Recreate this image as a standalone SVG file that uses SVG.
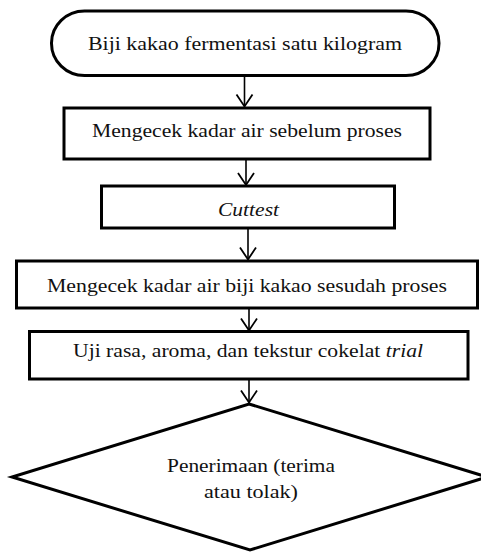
<svg xmlns="http://www.w3.org/2000/svg" width="481" height="553" viewBox="0 0 481 553">
<defs>
<style>
.shape{fill:#fff;stroke:#000;stroke-width:3;stroke-linejoin:miter}
.conn{stroke:#000;stroke-width:1.6;fill:none}
.lbl{font-family:"Liberation Serif","DejaVu Serif","Times New Roman",serif;font-size:19px;fill:#111;text-anchor:middle}
.it{font-style:italic}
</style>
<marker id="arr" markerUnits="userSpaceOnUse" markerWidth="16" markerHeight="20" viewBox="-14 -10 16 20" refX="0" refY="0" orient="auto">
<path d="M-12,-8 L0,0 L-12,8" fill="none" stroke="#000" stroke-width="1.8"/>
</marker>
</defs>
<rect width="481" height="553" fill="#fff"/>
<g id="connectors">
<line class="conn" x1="244.5" y1="76" x2="244.5" y2="106.5" marker-end="url(#arr)"/>
<line class="conn" x1="246" y1="159" x2="246" y2="185" marker-end="url(#arr)"/>
<line class="conn" x1="248" y1="228" x2="248" y2="259.5" marker-end="url(#arr)"/>
<line class="conn" x1="249" y1="308" x2="249" y2="330.5" marker-end="url(#arr)"/>
<line class="conn" x1="249" y1="379" x2="249" y2="402.5" marker-end="url(#arr)"/>
</g>
<g id="start">
<rect class="shape" x="51.5" y="11" width="387.5" height="64.5" rx="33" ry="32"/>
<text class="lbl" font-family="Liberation Serif, serif" x="245" y="50" textLength="314" lengthAdjust="spacingAndGlyphs">Biji kakao fermentasi satu kilogram</text>
</g>
<g id="cek-awal">
<rect class="shape" x="64" y="108" width="366" height="51"/>
<text class="lbl" font-family="Liberation Serif, serif" x="247" y="136.5" textLength="310" lengthAdjust="spacingAndGlyphs">Mengecek kadar air sebelum proses</text>
</g>
<g id="cuttest">
<rect class="shape" x="101.5" y="186" width="293" height="42"/>
<text class="lbl it" font-family="Liberation Serif, serif" x="248.5" y="216" textLength="61" lengthAdjust="spacingAndGlyphs">Cuttest</text>
</g>
<g id="cek-akhir">
<rect class="shape" x="16.5" y="261" width="461" height="47"/>
<text class="lbl" font-family="Liberation Serif, serif" x="247" y="291.5" textLength="400" lengthAdjust="spacingAndGlyphs">Mengecek kadar air biji kakao sesudah proses</text>
</g>
<g id="uji">
<rect class="shape" x="29.5" y="331.5" width="438.5" height="47.5"/>
<text class="lbl" font-family="Liberation Serif, serif" x="248" y="357" textLength="350" lengthAdjust="spacingAndGlyphs">Uji rasa, aroma, dan tekstur cokelat <tspan class="it">trial</tspan></text>
</g>
<g id="penerimaan">
<polygon class="shape" points="249,404 487,477 250,550 12,477"/>
<text class="lbl" font-family="Liberation Serif, serif" x="251" y="471.5" textLength="168" lengthAdjust="spacingAndGlyphs">Penerimaan (terima</text>
<text class="lbl" font-family="Liberation Serif, serif" x="251" y="498" textLength="94" lengthAdjust="spacingAndGlyphs">atau tolak)</text>
</g>
</svg>
